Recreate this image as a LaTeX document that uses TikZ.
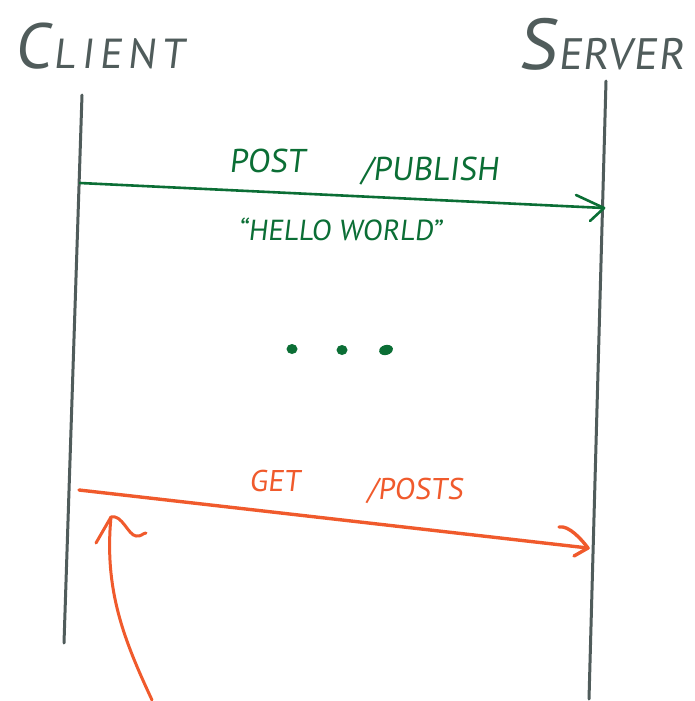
\documentclass[tikz,border=0pt]{standalone}
\usepackage{fontspec}
\setmainfont{PT Sans}[FakeSlant=0.12]
\usetikzlibrary{arrows.meta}
\definecolor{inkgray}{HTML}{505C5B}
\definecolor{inkgreen}{HTML}{0B6E35}
\definecolor{inkorange}{HTML}{F05A2C}
\tikzset{
  lifeline/.style={draw=inkgray, line width=3pt, line cap=round},
  msggreen/.style={draw=inkgreen, line width=2.6pt, line cap=round, line join=round},
  msgorange/.style={draw=inkorange, line width=3.4pt, line cap=round, line join=round},
  actorlabel/.style={inner sep=0pt, anchor=base west, text=inkgray},
  greenlabel/.style={inner sep=0pt, anchor=base west, text=inkgreen, font=\fontsize{33}{33}\selectfont},
  orangelabel/.style={inner sep=0pt, anchor=base west, text=inkorange, font=\fontsize{30}{30}\selectfont},
  dotmark/.style={ellipse, fill=inkgreen, inner sep=0pt, minimum width=11pt, minimum height=10pt},
}
\usetikzlibrary{shapes.geometric}
\begin{document}
\begin{tikzpicture}[x=1pt, y=-1pt]
  \useasboundingbox[fill=white] (0,0) rectangle (695,701);

  % actor headings
  \node[actorlabel] (client) at (14,69)
    {{\fontsize{64}{64}\selectfont C}\hspace{3pt}{\fontsize{42}{42}\selectfont\addfontfeature{LetterSpace=14}LIENT}};
  \node[actorlabel] (server) at (518,70)
    {{\fontsize{72}{72}\selectfont S}\hspace{2pt}{\fontsize{44}{44}\selectfont\addfontfeature{LetterSpace=2}ERVER}};

  % lifelines
  \coordinate (c-top) at (82,95);
  \coordinate (c-bot) at (64,643);
  \coordinate (s-top) at (606,81);
  \coordinate (s-bot) at (589,699);
  \draw[lifeline] (c-top) -- (c-bot);
  \draw[lifeline] (s-top) -- (s-bot);

  % POST /publish request
  \coordinate (post-from) at (80,183);
  \coordinate (post-to) at (604,208);
  \draw[msggreen] (post-from) -- (post-to);
  \draw[msggreen] (post-to) ++(-28,-13) -- (post-to) -- ++(-14,13);
  \node[greenlabel] (post) at (229,172) {POST};
  \node[greenlabel] (publish) at (361,180) {/PUBLISH};
  \node[greenlabel, font=\fontsize{29}{29}\selectfont] (payload) at (238,240) {“HELLO WORLD”};

  % ellipsis
  \node[dotmark] (d1) at (292,349) {};
  \node[dotmark] (d2) at (342,350) {};
  \node[dotmark, minimum width=14pt, rotate=15] (d3) at (386,350) {};

  % GET /posts request
  \coordinate (get-from) at (79,490);
  \coordinate (get-to) at (588,548);
  \draw[msgorange] (get-from) -- (get-to);
  \draw[msgorange] (get-to) ++(-29,-21) .. controls ++(10,-2) and ++(-6,-8) .. (get-to)
        -- ++(-14,8);
  \node[orangelabel] (get) at (249,491) {GET};
  \node[orangelabel] (posts) at (367,499) {/POSTS};

  % pointer to the GET request
  \coordinate (ptr-tail) at (152,700);
  \coordinate (ptr-tip) at (111,517);
  \draw[msgorange, line width=3pt] (ptr-tail) .. controls (124,640) and (104,590) .. (ptr-tip);
  \draw[msgorange, line width=3pt] (ptr-tip) -- (96,543)
        (ptr-tip) .. controls (122,514) and (128,535) .. (136,536)
        .. controls (141,537) and (143,533) .. (146,533);
\end{tikzpicture}
\end{document}
